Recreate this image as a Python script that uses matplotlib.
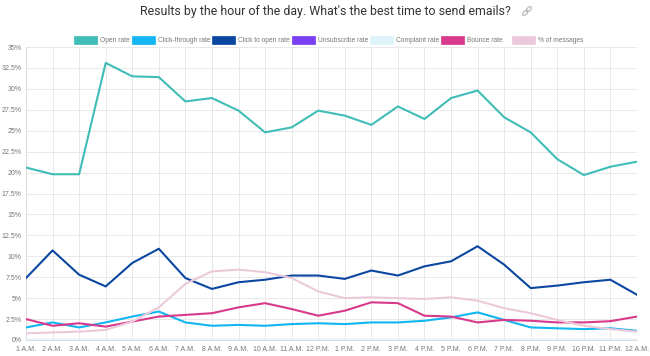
import numpy as np
import matplotlib.pyplot as plt
from matplotlib.patches import Rectangle, Ellipse
from matplotlib.ticker import FuncFormatter

plt.rcParams['font.family'] = ['Liberation Sans', 'DejaVu Sans']

hours = ['1 A.M.', '2 A.M.', '3 A.M.', '4 A.M.', '5 A.M.', '6 A.M.', '7 A.M.', '8 A.M.',
         '9 A.M.', '10 A.M.', '11 A.M.', '12 P.M.', '1 P.M.', '2 P.M.', '3 P.M.', '4 P.M.',
         '5 P.M.', '6 P.M.', '7 P.M.', '8 P.M.', '9 P.M.', '10 P.M.', '11 P.M.', '12 A.M.']

open_rate = [20.6, 19.8, 19.8, 33.1, 31.5, 31.4, 28.5, 28.9, 27.4, 24.8, 25.4, 27.4,
             26.8, 25.7, 27.9, 26.4, 28.9, 29.8, 26.6, 24.8, 21.6, 19.7, 20.7, 21.3]
click_through = [1.5, 2.1, 1.5, 2.1, 2.8, 3.4, 2.1, 1.7, 1.8, 1.7, 1.9, 2.0,
                 1.9, 2.1, 2.1, 2.3, 2.7, 3.3, 2.4, 1.5, 1.4, 1.3, 1.4, 1.1]
click_to_open = [7.4, 10.7, 7.8, 6.4, 9.2, 10.9, 7.4, 6.1, 6.9, 7.2, 7.7, 7.7,
                 7.3, 8.3, 7.7, 8.8, 9.4, 11.2, 9.0, 6.2, 6.5, 6.9, 7.2, 5.4]
unsubscribe = [0.05] * 24
complaint = [0.01] * 24
bounce = [2.5, 1.7, 2.0, 1.6, 2.2, 2.8, 3.0, 3.2, 3.9, 4.4, 3.7, 2.9,
          3.5, 4.5, 4.4, 2.9, 2.8, 2.1, 2.4, 2.3, 2.1, 2.1, 2.25, 2.8]
pct_messages = [0.8, 0.9, 1.0, 1.2, 2.2, 3.9, 6.7, 8.2, 8.4, 8.1, 7.4, 5.8,
                5.0, 5.1, 5.0, 4.9, 5.1, 4.7, 3.8, 3.2, 2.4, 1.7, 1.3, 1.0]

series = [
    ('Open rate', open_rate, '#3fbdb6'),
    ('Click-through rate', click_through, '#12b6f2'),
    ('Click to open rate', click_to_open, '#0b47a1'),
    ('Unsubscribe rate', unsubscribe, '#7a3ff0'),
    ('Complaint rate', complaint, '#def3fa'),
    ('Bounce rate', bounce, '#d8398a'),
    ('% of messages', pct_messages, '#ecc9da'),
]
draw_order = [6, 4, 3, 5, 1, 2, 0]

fig = plt.figure(figsize=(6.5, 3.56), dpi=100)
ax = fig.add_axes([26 / 650, 16 / 356, (637 - 26) / 650, (340 - 47) / 356])

x = np.arange(len(hours))
for i in draw_order:
    name, vals, col = series[i]
    ax.plot(x, vals, color=col, lw=1.5, zorder=3 + i * 0.1)

ax.set_xlim(0, len(hours) - 1)
ax.set_ylim(0, 35)
ax.set_yticks(np.arange(0, 35.1, 2.5))
ax.yaxis.set_major_formatter(FuncFormatter(lambda v, p: f'{v:g}%'))
ax.set_xticks(x)
ax.set_xticklabels(hours)
ax.tick_params(axis='both', labelsize=5.0, colors='#777777', length=0, pad=4)
ax.tick_params(axis='y', pad=3)
ax.grid(True, color='#e8e8e8', lw=0.7)
ax.set_axisbelow(True)
for s in ['top', 'right']:
    ax.spines[s].set_visible(False)
for s in ['left', 'bottom']:
    ax.spines[s].set_color('#dcdcdc')
    ax.spines[s].set_linewidth(0.7)

fig.text(0.5, 1 - 11 / 356, "Results by the hour of the day. What's the best time to send emails?",
         ha='center', va='center', fontsize=8.9, color='#333333', family='Roboto')

# link icon next to the title (two chain links, lower-left to upper-right)
for d in (-1.8, 1.8):
    fig.patches.append(Ellipse((527 + d, 356 - 11 + d), 6.5, 3.4, angle=45,
                               transform=None, fill=False, edgecolor='#bbbbbb',
                               lw=0.9, figure=fig))

# legend
box_left = [74, 132, 212, 292, 370, 441, 512]
ly = 356 - 40
for (name, vals, col), bx in zip(series, box_left):
    fig.patches.append(Rectangle((bx / 650, (ly - 4) / 356), 23 / 650, 8 / 356,
                                 transform=fig.transFigure, facecolor=col,
                                 edgecolor=col, lw=0.5, figure=fig))
    fig.text((bx + 26) / 650, ly / 356, name, ha='left', va='center',
             fontsize=4.8, color='#777777')

fig.savefig('out.png', dpi=100, facecolor='white')
